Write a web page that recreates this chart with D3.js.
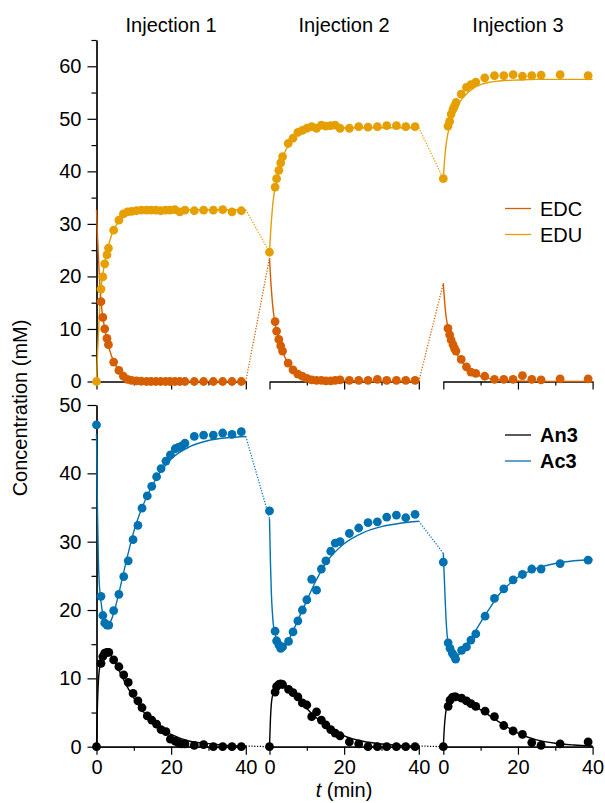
<!DOCTYPE html>
<html>
<head>
<meta charset="utf-8">
<script src="https://cdn.jsdelivr.net/npm/d3@7"></script>
<style>
  body { margin: 0; background: #fff; }
  text { font-family: "Liberation Sans", Arial, Helvetica, sans-serif; }
</style>
</head>
<body>
<svg id="chart" width="605" height="803"></svg>
<script>
// ---- labels ----
const injections = ["Injection 1", "Injection 2", "Injection 3"];
const xMajorTicks = [0, 20, 40];
const xMinorTicks = [10, 30];
const yTopMajor = [0, 10, 20, 30, 40, 50, 60];
const yTopMinor = [5, 15, 25, 35, 45, 55, 65];
const yBotMajor = [0, 10, 20, 30, 40, 50];
const yBotMinor = [5, 15, 25, 35, 45];

// ---- measured EDC / EDU (mM) ----
const tTop1 = [0, 1.2, 1.7, 2.2, 2.8, 3.2, 4.6, 6.0, 7.2, 8.3, 9.4, 10.7, 12.0, 13.4, 14.6, 15.9, 17.2, 18.5, 19.7, 21.0, 22.3, 23.7, 26.2, 28.7, 31.3, 33.8, 36.3, 38.8];
const edu1 = [0, 17.6, 19.9, 22.4, 24.1, 25.4, 28.8, 30.7, 31.9, 32.3, 32.4, 32.5, 32.6, 32.6, 32.6, 32.6, 32.5, 32.6, 32.6, 32.7, 32.3, 32.6, 32.5, 32.6, 32.6, 32.7, 32.3, 32.5];
const edc1 = [null, 15.2, 12.2, 10.0, 8.2, 7.0, 3.7, 2.1, 1.0, 0.4, 0.2, 0.1, 0.05, 0, 0, 0, 0, 0, 0, 0, 0, 0, 0, 0, 0, 0, 0, 0];

const tTop2 = [0, 1.5, 1.9, 2.5, 3.0, 3.5, 5.0, 6.3, 7.6, 8.8, 10.0, 11.3, 12.6, 13.9, 15.1, 16.4, 17.6, 18.9, 21.4, 23.9, 26.4, 28.9, 31.4, 34.0, 36.5, 39.0];
const edu2 = [24.6, 37.0, 38.6, 40.2, 41.6, 42.8, 45.3, 46.3, 47.4, 47.8, 48.2, 48.5, 48.2, 48.8, 48.6, 48.7, 48.8, 48.2, 48.2, 48.5, 48.4, 48.5, 48.7, 48.7, 48.5, 48.5];
const edc2 = [null, 11.4, 9.6, 8.0, 6.8, 5.8, 3.5, 2.2, 1.4, 1.0, 0.6, 0.3, 0.2, 0.2, 0.1, 0.1, 0.2, 0.3, 0.2, 0.2, 0.2, 0.4, 0.2, 0.2, 0.2, 0.2];

const tTop3 = [0, 1.25, 1.7, 2.1, 2.6, 3.0, 3.4, 4.8, 6.2, 7.4, 8.7, 11.1, 13.7, 16.2, 18.7, 21.2, 23.7, 26.2, 31.3, 38.8];
const edu3 = [38.6, 48.6, 49.5, 50.9, 51.8, 52.4, 53.1, 54.7, 56.0, 56.5, 57.0, 57.8, 58.2, 58.2, 58.4, 58.1, 58.2, 58.3, 58.4, 58.2];
const edc3 = [null, 10.1, 8.9, 7.9, 7.0, 6.3, 5.8, 4.2, 2.8, 1.8, 1.55, 1.0, 0.4, 0.4, 0.4, 1.1, 0.4, 0.3, 0.5, 0.5];

// ---- measured An3 / Ac3 (mM) ----
const tBot1 = [0, 1.2, 1.7, 2.2, 2.8, 3.3, 4.6, 6.0, 7.3, 8.5, 9.8, 11.1, 12.2, 13.6, 14.8, 16.1, 17.3, 18.6, 19.8, 21.1, 21.9, 22.8, 23.7, 26.2, 28.7, 31.3, 33.8, 36.3, 38.8];
const ac3_1 = [47.1, 22.0, 19.2, 18.1, 17.8, 17.8, 19.9, 22.3, 24.9, 27.2, 30.3, 32.4, 34.9, 36.7, 38.1, 39.5, 40.7, 41.8, 42.7, 43.6, 43.8, 44.0, 44.4, 45.4, 45.6, 45.6, 45.9, 45.7, 46.1];
const an3_1 = [0, 12.2, 13.2, 13.7, 13.8, 13.8, 12.7, 11.7, 10.5, 9.4, 7.8, 6.7, 5.7, 4.5, 3.9, 3.3, 2.5, 2.2, 1.1, 0.8, 0.6, 0.4, 0.4, 0.2, 0.3, 0, 0, 0, 0];

const tBot2 = [0, 1.5, 1.9, 2.5, 3.0, 3.5, 5.1, 6.3, 7.6, 8.8, 10.0, 11.3, 12.6, 13.9, 15.1, 16.4, 17.6, 18.9, 21.4, 23.9, 26.4, 28.9, 31.4, 34.0, 36.5, 39.0];
const ac3_2 = [34.5, 16.9, 15.5, 14.9, 14.4, 14.6, 15.4, 16.8, 18.4, 20.0, 21.5, 24.5, 22.9, 26.0, 27.2, 28.6, 29.8, 30.0, 31.2, 32.0, 32.8, 32.9, 33.6, 33.9, 33.5, 34.0];
const an3_2 = [0, 8.0, 8.8, 9.1, 9.2, 9.1, 8.4, 7.9, 7.3, 6.4, 6.1, 4.4, 5.1, 3.9, 3.2, 2.5, 2.0, 1.6, 0.7, 0.4, 0, 0, 0, 0, 0, 0];

const tBot3 = [0, 1.3, 1.8, 2.4, 2.9, 3.3, 4.9, 6.2, 7.4, 8.7, 11.2, 13.7, 16.2, 18.7, 21.2, 23.7, 26.2, 31.3, 38.8];
const ac3_3 = [27.0, 15.2, 14.4, 13.7, 13.3, 12.8, 14.1, 14.6, 15.6, 16.5, 19.1, 21.7, 23.1, 24.4, 25.2, 26.0, 26.0, 26.8, 27.3];
const an3_3 = [0, 5.9, 6.8, 7.2, 7.3, 7.3, 7.1, 6.7, 6.3, 5.9, 5.2, 4.4, 3.1, 2.3, 1.8, 0.6, 0.2, 0.4, 0.7];

// ---- kinetic model curves (mM) on a common time grid ----
const fitT = [0, 0.25, 0.5, 0.75, 1, 1.5, 2, 3, 4, 5, 6, 8, 10, 12, 15, 20, 25, 30, 35, 40];
const edcFit1 = [32.7, 28.0, 24.0, 20.3, 17.0, 13.3, 10.9, 7.4, 4.9, 3.3, 2.2, 1.0, 0.45, 0.2, 0.07, 0, 0, 0, 0, 0];
const eduFit1 = [0, 4.7, 8.7, 12.4, 15.7, 19.4, 21.8, 25.3, 27.8, 29.4, 30.5, 31.7, 32.2, 32.5, 32.6, 32.7, 32.7, 32.7, 32.7, 32.7];
const edcFit2 = [23.5, 20.2, 17.5, 15.3, 13.5, 11.0, 9.3, 6.7, 4.8, 3.5, 2.5, 1.3, 0.7, 0.4, 0.2, 0.1, 0.05, 0, 0, 0];
const eduFit2 = [24.6, 27.8, 30.5, 32.7, 34.5, 37.0, 38.9, 41.6, 43.5, 44.9, 45.9, 47.2, 47.8, 48.1, 48.25, 48.3, 48.3, 48.3, 48.3, 48.3];
const edcFit3 = [18.7, 16.2, 14.0, 12.4, 11.2, 9.4, 8.1, 6.2, 4.8, 3.7, 2.9, 1.7, 1.0, 0.6, 0.3, 0.1, 0.05, 0, 0, 0];
const eduFit3 = [38.6, 41.3, 43.5, 45.1, 46.3, 48.1, 49.4, 51.3, 52.7, 53.8, 54.6, 55.8, 56.5, 56.9, 57.2, 57.4, 57.5, 57.5, 57.5, 57.5];
const ac3Fit1 = [45.8, 35.0, 27.5, 23.8, 22.3, 20.0, 18.8, 17.9, 18.6, 20.3, 22.5, 27.2, 31.5, 34.7, 38.3, 42.1, 43.9, 44.8, 45.2, 45.4];
const an3Fit1 = [0, 6.0, 9.5, 11.2, 12.0, 13.0, 13.6, 13.9, 13.3, 12.3, 11.2, 9.0, 7.1, 5.5, 3.6, 1.8, 0.8, 0.45, 0.2, 0.1];
const ac3Fit2 = [33.4, 27.0, 22.5, 19.8, 18.0, 16.5, 15.5, 14.6, 14.8, 15.5, 16.6, 19.0, 21.4, 23.8, 26.8, 29.7, 31.3, 32.2, 32.7, 33.0];
const an3Fit2 = [0, 4.0, 6.3, 7.3, 7.8, 8.4, 8.8, 9.2, 9.1, 8.6, 8.0, 6.8, 5.6, 4.5, 3.2, 1.6, 0.8, 0.4, 0.2, 0.1];
const ac3Fit3 = [28.3, 25.0, 21.5, 18.5, 16.5, 14.6, 13.8, 13.1, 13.4, 14.0, 14.8, 16.4, 18.2, 19.9, 22.3, 24.8, 26.1, 26.8, 27.2, 27.4];
const an3Fit3 = [0, 2.6, 4.3, 5.3, 5.8, 6.6, 7.0, 7.3, 7.3, 7.1, 6.8, 6.1, 5.4, 4.7, 3.6, 2.0, 1.0, 0.5, 0.25, 0.1];

// ---- series tables ----
const topSeries = [
  { name: "EDU", color: "#E69F00", times: [tTop1, tTop2, tTop3], values: [edu1, edu2, edu3], fits: [eduFit1, eduFit2, eduFit3] },
  { name: "EDC", color: "#D55E00", times: [tTop1, tTop2, tTop3], values: [edc1, edc2, edc3], fits: [edcFit1, edcFit2, edcFit3] }
];
const botSeries = [
  { name: "Ac3", color: "#0072B2", times: [tBot1, tBot2, tBot3], values: [ac3_1, ac3_2, ac3_3], fits: [ac3Fit1, ac3Fit2, ac3Fit3] },
  { name: "An3", color: "#000000", times: [tBot1, tBot2, tBot3], values: [an3_1, an3_2, an3_3], fits: [an3Fit1, an3Fit2, an3Fit3] }
];

// ---- layout ----
const svg = d3.select("#chart");
const panelLeft = [96.5, 269.5, 443.3];
const panelW = 149.3;
const xs = panelLeft.map(l => d3.scaleLinear().domain([0, 40]).range([l, l + panelW]));
const yTop = d3.scaleLinear().domain([0, 65]).range([381.5, 40]);
const yBot = d3.scaleLinear().domain([0, 50]).range([746.7, 405]);
const FS = 20;

function styleAxis(g) {
  g.selectAll("path.domain").attr("stroke", "#000").attr("stroke-width", 1.2);
  g.selectAll(".tick line").attr("stroke", "#000").attr("stroke-width", 1.2);
  g.selectAll(".tick text").attr("font-size", FS).attr("fill", "#000")
    .attr("font-family", "'Liberation Sans', Arial, Helvetica, sans-serif");
}

// y axes
function drawYAxis(scale, major, minor) {
  const g1 = svg.append("g").attr("transform", `translate(${panelLeft[0]},0)`)
    .call(d3.axisLeft(scale).tickValues(major).tickSize(9).tickSizeOuter(0).tickPadding(6));
  styleAxis(g1);
  const g2 = svg.append("g").attr("transform", `translate(${panelLeft[0]},0)`)
    .call(d3.axisLeft(scale).tickValues(minor).tickSize(5).tickSizeOuter(0).tickFormat(""));
  styleAxis(g2);
}
drawYAxis(yTop, yTopMajor, yTopMinor);
drawYAxis(yBot, yBotMajor, yBotMinor);

// x axes, one per injection in each row
xs.forEach((x, i) => {
  [[yTop, false], [yBot, true]].forEach(([ys, labelled]) => {
    const major = d3.axisBottom(x).tickValues(xMajorTicks).tickSize(8).tickSizeOuter(0).tickPadding(5);
    if (!labelled) major.tickFormat("");
    const g1 = svg.append("g").attr("transform", `translate(0,${ys(0)})`).call(major);
    styleAxis(g1);
    const g2 = svg.append("g").attr("transform", `translate(0,${ys(0)})`)
      .call(d3.axisBottom(x).tickValues(xMinorTicks).tickSize(4).tickSizeOuter(0).tickFormat(""));
    styleAxis(g2);
  });
});

// curves, connectors, points
function drawRow(series, ys) {
  const fitLine = (x) => d3.line().x((d, k) => x(fitT[k])).y(d => ys(d)).curve(d3.curveMonotoneX);
  series.forEach(s => {
    s.fits.forEach((f, i) => {
      svg.append("path").datum(f).attr("d", fitLine(xs[i]))
        .attr("fill", "none").attr("stroke", s.color).attr("stroke-width", 1.4);
      if (i < s.fits.length - 1) {
        const next = s.fits[i + 1];
        svg.append("line")
          .attr("x1", xs[i](fitT[fitT.length - 1])).attr("y1", ys(f[f.length - 1]))
          .attr("x2", xs[i + 1](fitT[0])).attr("y2", ys(next[0]))
          .attr("stroke", s.color).attr("stroke-width", 1.3).attr("stroke-dasharray", "1.2,1.6");
      }
    });
  });
  series.forEach(s => {
    s.values.forEach((vals, i) => {
      const pts = vals.map((v, k) => ({ t: s.times[i][k], v })).filter(d => d.v !== null);
      svg.append("g").selectAll("circle").data(pts).join("circle")
        .attr("cx", d => xs[i](d.t)).attr("cy", d => ys(d.v)).attr("r", 4.4)
        .attr("fill", s.color);
    });
  });
}
drawRow(topSeries, yTop);
drawRow(botSeries, yBot);

// injection titles
injections.forEach((name, i) => {
  svg.append("text").attr("x", xs[i](20)).attr("y", 32).attr("text-anchor", "middle")
    .attr("font-size", FS).text(name);
});

// axis titles
svg.append("text").attr("transform", "translate(27,408) rotate(-90)")
  .attr("text-anchor", "middle").attr("font-size", FS).text("Concentration (mM)");
const xl = svg.append("text").attr("x", 344).attr("y", 797).attr("text-anchor", "middle").attr("font-size", FS);
xl.append("tspan").attr("font-style", "italic").text("t");
xl.append("tspan").text(" (min)");

// legends
function legend(items, y0, bold) {
  items.forEach((it, k) => {
    const y = y0 + k * 26;
    svg.append("line").attr("x1", 505).attr("x2", 531).attr("y1", y).attr("y2", y)
      .attr("stroke", it.color).attr("stroke-width", 1.3);
    svg.append("text").attr("x", 540).attr("y", y + 7).attr("font-size", FS)
      .attr("font-weight", bold ? "bold" : "normal").text(it.name);
  });
}
legend([topSeries[1], topSeries[0]], 208.5, false);
legend([botSeries[1], botSeries[0]], 435, true);
</script>
</body>
</html>
